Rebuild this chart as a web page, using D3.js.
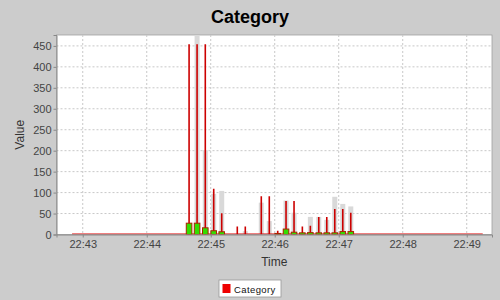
<!DOCTYPE html>
<html>
  <head>
    <title>Category</title>
    <script src="https://cdn.jsdelivr.net/npm/d3@7"></script>
    <style>
      body { margin: 0; background: #cccccc; }
      text { font-family: "Liberation Sans", Arial, sans-serif; }
    </style>
  </head>
  <body>
    <svg id="chart" width="500" height="300"></svg>
    <script>
      // readings, one entry per time stamp
      const times = ["22:44:39.7", "22:44:47.2", "22:44:54.9", "22:45:02.8", "22:45:10.3",
        "22:45:24.9", "22:45:32.4", "22:45:47.4", "22:45:54.9", "22:46:02.8", "22:46:10.6",
        "22:46:18.1", "22:46:25.9", "22:46:33.4", "22:46:41.3", "22:46:48.8", "22:46:56.3",
        "22:47:03.8", "22:47:11.3"];
      const values = [27, 27, 16, 9, 6.5, 0, 0, 0, 0, 2.5, 13, 5.5, 4, 4.5, 4, 4, 4, 7, 7];
      const highs = [454, 454, 454, 109, 51, 19, 19, 91, 91, 9, 80, 80, 19, 21, 42, 42, 61, 61, 52];
      const shadows = [0, 520, 201, 97, 104, 0, 8, 76, 32, 0, 81, 52, 0, 42, 42, 35, 90, 73, 67];
      // time span covered by the (mostly empty) series
      const spanTimes = ["22:42:50", "22:49:15"];
      const xTicks = ["22:43", "22:44", "22:45", "22:46", "22:47", "22:48", "22:49"];
      const yTicks = [0, 50, 100, 150, 200, 250, 300, 350, 400, 450];
      const xDomain = ["22:42:35.4", "22:49:23.7"];
      const yDomain = [0, 476];

      const base = new Date(2000, 0, 1).getTime();
      function parseTime(s) {
        const p = s.split(":").map(Number);
        return new Date(base + ((p[0] * 60 + p[1]) * 60 + (p[2] || 0)) * 1000);
      }

      const data = times.map((t, i) => ({
        t: parseTime(t), v: values[i], hi: highs[i], sh: shadows[i]
      }));

      const svg = d3.select("#chart");
      const plotLeft = 56.5, plotRight = 492, plotTop = 35, plotBottom = 234.5;

      const x = d3.scaleTime().domain(xDomain.map(parseTime)).range([plotLeft, plotRight]);
      const y = d3.scaleLinear().domain(yDomain).range([plotBottom, plotTop]);

      // title
      svg.append("text").attr("x", 250).attr("y", 23).attr("text-anchor", "middle")
        .style("font-size", "18px").style("font-weight", "bold").text("Category");

      // plot area
      svg.append("rect").attr("x", plotLeft).attr("y", plotTop)
        .attr("width", plotRight - plotLeft).attr("height", plotBottom - plotTop)
        .attr("fill", "white").attr("stroke", "#a0a0a0").attr("stroke-width", 0.8);

      svg.append("clipPath").attr("id", "clip").append("rect")
        .attr("x", plotLeft).attr("y", plotTop)
        .attr("width", plotRight - plotLeft).attr("height", plotBottom - plotTop);

      const grid = svg.append("g");
      grid.selectAll(".gx").data(xTicks.map(parseTime)).enter().append("line")
        .attr("x1", (d) => x(d)).attr("x2", (d) => x(d)).attr("y1", plotTop).attr("y2", plotBottom)
        .attr("stroke", "#c8c8c8").attr("stroke-dasharray", "2,2");
      grid.selectAll(".gy").data(yTicks.slice(1)).enter().append("line")
        .attr("x1", plotLeft).attr("x2", plotRight).attr("y1", (d) => y(d)).attr("y2", (d) => y(d))
        .attr("stroke", "#c8c8c8").attr("stroke-dasharray", "2,2");

      const marks = svg.append("g").attr("clip-path", "url(#clip)");
      const bw = 5.6;

      // shadow bars
      marks.selectAll(".sh").data(data.filter((d) => d.sh > 0)).enter().append("rect")
        .attr("x", (d) => x(d.t) - 2.5).attr("width", 5)
        .attr("y", (d) => y(d.sh)).attr("height", (d) => y(0) - y(d.sh))
        .attr("fill", "#d9d9d9");

      // baseline run of zero readings
      marks.append("line")
        .attr("x1", x(parseTime(spanTimes[0]))).attr("x2", x(parseTime(spanTimes[1])))
        .attr("y1", y(0) - 0.5).attr("y2", y(0) - 0.5)
        .attr("stroke", "#dd0000").attr("stroke-width", 1.2);

      // high lines
      marks.selectAll(".hi").data(data).enter().append("line")
        .attr("x1", (d) => x(d.t)).attr("x2", (d) => x(d.t))
        .attr("y1", y(0)).attr("y2", (d) => y(d.hi))
        .attr("stroke", "#cc0000").attr("stroke-width", 1.6);

      // value bars
      marks.selectAll(".v").data(data.filter((d) => d.v > 0)).enter().append("rect")
        .attr("x", (d) => x(d.t) - bw / 2).attr("width", bw)
        .attr("y", (d) => y(d.v)).attr("height", (d) => y(0) - y(d.v))
        .attr("fill", "#33dd00").attr("stroke", "#aa2200").attr("stroke-width", 1);

      // axes
      const xAxis = d3.axisBottom(x).tickValues(xTicks.map(parseTime))
        .tickFormat(d3.timeFormat("%H:%M")).tickSize(3).tickPadding(3);
      const gx = svg.append("g").attr("transform", `translate(0,${plotBottom})`).call(xAxis);
      const yAxis = d3.axisLeft(y).tickValues(yTicks).tickSize(3).tickPadding(2);
      const gy = svg.append("g").attr("transform", `translate(${plotLeft},0)`).call(yAxis);
      [gx, gy].forEach((g) => {
        g.select(".domain").attr("stroke", "#888");
        g.selectAll(".tick line").attr("stroke", "#888");
        g.selectAll(".tick text").attr("fill", "#444")
          .style("font-size", "11px").style("font-family", "'Liberation Sans', Arial, sans-serif");
      });

      svg.append("text").attr("x", (plotLeft + plotRight) / 2).attr("y", 266).attr("text-anchor", "middle")
        .attr("fill", "#333").style("font-size", "12px").text("Time");
      svg.append("text").attr("transform", `translate(24,${(plotTop + plotBottom) / 2}) rotate(-90)`)
        .attr("text-anchor", "middle").attr("fill", "#333").style("font-size", "12px").text("Value");

      // legend
      const lg = svg.append("g").attr("transform", "translate(219,280)");
      lg.append("rect").attr("width", 62).attr("height", 17)
        .attr("fill", "white").attr("stroke", "#999").attr("stroke-width", 0.8);
      lg.append("rect").attr("x", 3.5).attr("y", 4).attr("width", 8).attr("height", 9).attr("fill", "#ee0000");
      lg.append("text").attr("x", 15).attr("y", 12.5).attr("fill", "#111")
        .style("font-size", "9.5px").style("letter-spacing", "0.4px").text("Category");
    </script>
  </body>
</html>
